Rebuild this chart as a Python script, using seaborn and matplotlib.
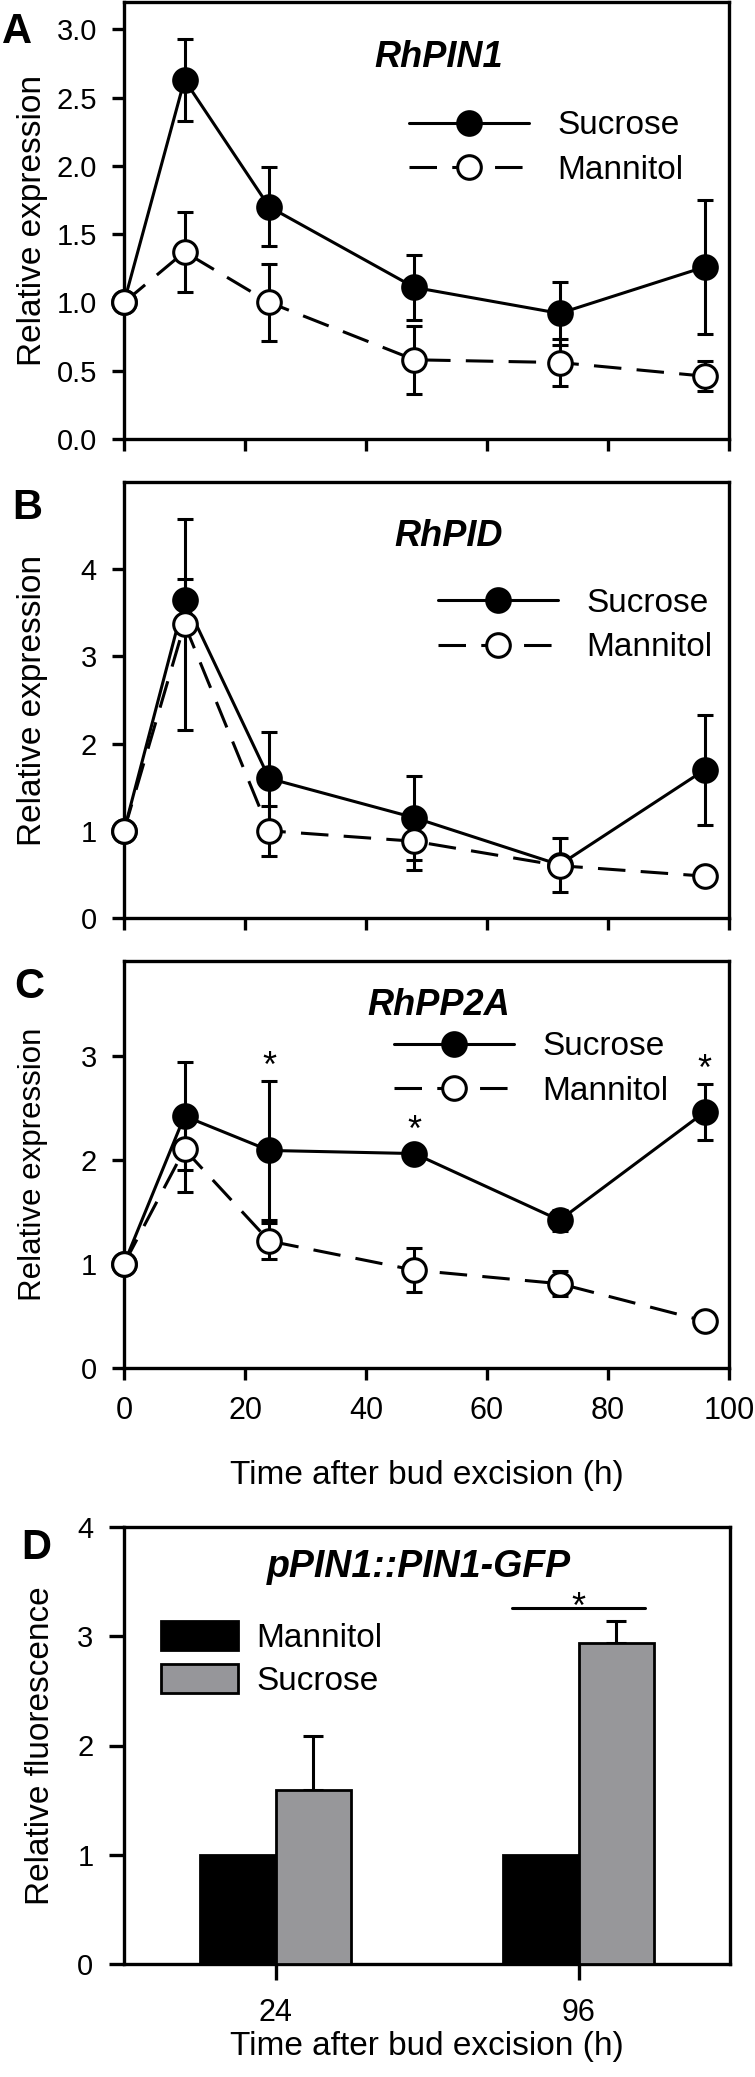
import numpy as np
import pandas as pd
import matplotlib
matplotlib.use("Agg")
import matplotlib.pyplot as plt
from matplotlib.patches import Patch
import seaborn as sns

# ---------------- data ----------------
time_h = [0, 10, 24, 48, 72, 96]
x_ticks = [0, 20, 40, 60, 80, 100]

# A: RhPIN1
suc_A = [1.0, 2.63, 1.70, 1.11, 0.92, 1.26]
suc_A_err = [0.0, 0.30, 0.29, 0.24, 0.23, 0.49]
man_A = [1.0, 1.37, 1.00, 0.58, 0.56, 0.46]
man_A_err = [0.0, 0.29, 0.28, 0.25, 0.17, 0.11]

# B: RhPID
suc_B = [1.0, 3.65, 1.60, 1.15, 0.61, 1.70]
suc_B_err = [0.0, 0.24, 0.53, 0.48, 0.31, 0.63]
man_B = [1.0, 3.37, 1.00, 0.88, 0.60, 0.48]
man_B_err = [0.0, 1.21, 0.29, 0.33, 0.05, 0.04]

# C: RhPP2A
suc_C = [1.0, 2.42, 2.09, 2.06, 1.42, 2.46]
suc_C_err = [0.0, 0.52, 0.67, 0.03, 0.10, 0.27]
man_C = [1.0, 2.10, 1.22, 0.94, 0.81, 0.45]
man_C_err = [0.0, 0.41, 0.17, 0.21, 0.12, 0.02]
sig_C = [False, False, True, True, False, True]

# D: pPIN1::PIN1-GFP
groups_D = ["24", "96"]
man_D = [1.0, 1.0]
suc_D = [1.59, 2.94]
suc_D_err = [0.50, 0.20]
sig_D = [False, True]

genes = ["RhPIN1", "RhPID", "RhPP2A", "pPIN1::PIN1-GFP"]

# ---------------- style ----------------
sns.set_theme(style="ticks")
plt.rcParams["font.family"] = ["Liberation Sans", "DejaVu Sans"]
plt.rcParams.update({
    "axes.edgecolor": "black",
    "axes.linewidth": 2.4,
    "xtick.color": "black",
    "ytick.color": "black",
    "text.color": "black",
    "axes.labelcolor": "black",
    "xtick.major.width": 2.4,
    "ytick.major.width": 2.4,
})

W, H = 755, 2077
fig = plt.figure(figsize=(W / 100, H / 100), dpi=100)


def rect(top, bottom, left=124, right=729):
    return [left / W, 1 - bottom / H, (right - left) / W, (bottom - top) / H]


LW = 2.2
MS = 17


def line_panel(ax, suc, suc_err, man, man_err, ylim, yticks, fmt, title, tpos,
               legpos, ylab_size, show_x, sig=None):
    df_s = pd.DataFrame({"t": time_h, "v": suc})
    df_m = pd.DataFrame({"t": time_h, "v": man})
    ax.errorbar(time_h, suc, yerr=suc_err, fmt="none", ecolor="black",
                elinewidth=LW, capsize=5.8, capthick=LW, zorder=2, clip_on=False)
    ax.errorbar(time_h, man, yerr=man_err, fmt="none", ecolor="black",
                elinewidth=LW, capsize=5.8, capthick=LW, zorder=2, clip_on=False)
    sns.lineplot(data=df_s, x="t", y="v", ax=ax, color="black", marker="o",
                 markersize=MS, markerfacecolor="black", markeredgecolor="black",
                 markeredgewidth=LW, linewidth=LW, label="Sucrose", zorder=3,
                 clip_on=False, errorbar=None)
    sns.lineplot(data=df_m, x="t", y="v", ax=ax, color="black", marker="o",
                 markersize=MS, markerfacecolor="white", markeredgecolor="black",
                 markeredgewidth=LW, linewidth=LW, linestyle=(0, (9, 5)),
                 label="Mannitol", zorder=4, clip_on=False, errorbar=None)
    ax.set_xlim(0, 100)
    ax.set_ylim(*ylim)
    ax.set_xticks(x_ticks)
    ax.set_yticks(yticks)
    ax.set_yticklabels([fmt.format(v) for v in yticks])
    ax.tick_params(axis="y", direction="out", length=8.5, width=2.4, pad=11,
                   labelsize=21)
    ax.tick_params(axis="x", direction="out", length=8.5, width=2.4, pad=12,
                   labelsize=22, labelbottom=show_x)
    ax.set_ylabel("Relative expression", fontsize=ylab_size)
    ax.yaxis.set_label_coords(-0.125, 0.5)
    if show_x:
        ax.set_xlabel("Time after bud excision (h)", fontsize=24)
        ax.xaxis.set_label_coords(0.5, -0.226)
    else:
        ax.set_xlabel("")
    for s in ax.spines.values():
        s.set_visible(True)
        s.set_linewidth(2.4)
    ax.text(tpos[0], tpos[1], title, transform=ax.transAxes, ha="center",
            va="center", fontsize=26, fontweight="bold", fontstyle="italic")
    h, l = ax.get_legend_handles_labels()
    ax.legend(h, l, loc="upper left", bbox_to_anchor=legpos, frameon=False,
              fontsize=24, handlelength=3.6, handletextpad=0.85,
              labelspacing=0.4, borderpad=0, borderaxespad=0, numpoints=1)
    if sig is not None:
        for t, v, e, s in zip(time_h, suc, suc_err, sig):
            if s:
                ax.text(t, v + max(e, 0.08) + 0.04, "*", ha="center",
                        va="baseline", fontsize=26)


axA = fig.add_axes(rect(2, 439))
line_panel(axA, suc_A, suc_A_err, man_A, man_A_err, (0, 3.2),
           [0, 0.5, 1.0, 1.5, 2.0, 2.5, 3.0], "{:.1f}", genes[0], (0.52, 0.872),
           (0.471, 0.752), 24, False)

axB = fig.add_axes(rect(482, 918))
line_panel(axB, suc_B, suc_B_err, man_B, man_B_err, (0, 5.0),
           [0, 1, 2, 3, 4], "{:d}", genes[1], (0.536, 0.876),
           (0.519, 0.757), 24, False)

axC = fig.add_axes(rect(961, 1368))
line_panel(axC, suc_C, suc_C_err, man_C, man_C_err, (0, 3.91),
           [0, 1, 2, 3], "{:d}", genes[2], (0.52, 0.89),
           (0.446, 0.827), 22.5, True, sig=sig_C)

# ---------------- D: bars ----------------
axD = fig.add_axes(rect(1527, 1964, right=730))
df_D = pd.DataFrame({
    "time": groups_D * 2,
    "treat": ["Mannitol"] * len(groups_D) + ["Sucrose"] * len(groups_D),
    "val": man_D + suc_D,
})
pal = {"Mannitol": "black", "Sucrose": "#96969a"}
sns.barplot(data=df_D, x="time", y="val", hue="treat", hue_order=["Mannitol", "Sucrose"],
            palette=pal, width=0.5, errorbar=None, edgecolor="black", linewidth=2.0,
            ax=axD, legend=False, zorder=3)
suc_bars = axD.containers[1]
bx = [b.get_x() + b.get_width() / 2 for b in suc_bars]
by = [b.get_height() for b in suc_bars]
axD.errorbar(bx, by, yerr=[[0] * len(by), suc_D_err], fmt="none", ecolor="black",
             elinewidth=LW, capsize=7, capthick=LW, zorder=2)
for i, (s, v, e) in enumerate(zip(sig_D, suc_D, suc_D_err)):
    if s:
        ysig = v + e + 0.12
        axD.plot([i - 0.22, i + 0.22], [ysig, ysig], color="black", lw=LW)
        axD.text(i, ysig - 0.09, "*", ha="center", va="baseline", fontsize=26)
axD.set_xlim(-0.5, 1.5)
axD.set_ylim(0, 4)
axD.set_yticks([0, 1, 2, 3, 4])
axD.tick_params(axis="y", direction="out", length=11, width=2.4, pad=11, labelsize=21)
axD.tick_params(axis="x", direction="out", length=11.5, width=2.4, pad=13, labelsize=22)
for s in axD.spines.values():
    s.set_visible(True)
    s.set_linewidth(2.4)
axD.set_ylabel("Relative fluorescence", fontsize=24)
axD.yaxis.set_label_coords(-0.112, 0.5)
axD.set_xlabel("Time after bud excision (h)", fontsize=24)
axD.xaxis.set_label_coords(0.5, -0.153)
axD.text(0.486, 0.908, genes[3], transform=axD.transAxes, ha="center", va="center",
         fontsize=27, fontweight="bold", fontstyle="italic")
handles = [Patch(facecolor=pal[k], edgecolor="black", linewidth=2.0, label=k)
           for k in ["Mannitol", "Sucrose"]]
axD.legend(handles=handles, loc="upper left", bbox_to_anchor=(0.061, 0.785),
           frameon=False, fontsize=24, handlelength=2.3, handleheight=0.95,
           handletextpad=0.55, labelspacing=0.3, borderpad=0, borderaxespad=0)

# panel letters
for letter, (px, py) in zip("ABCD", [(17, 32), (27, 508), (29, 987), (36, 1548)]):
    fig.text(px / W, 1 - py / H, letter, ha="center", va="center", fontsize=30,
             fontweight="bold")

fig.savefig("out.png", dpi=100)
